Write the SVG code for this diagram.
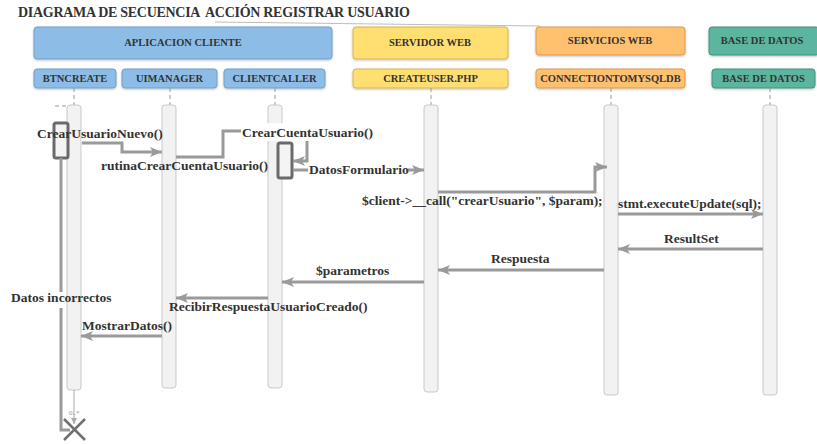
<svg xmlns="http://www.w3.org/2000/svg" width="817" height="444" viewBox="0 0 817 444">
<defs>
<marker id="arr" markerUnits="userSpaceOnUse" markerWidth="14" markerHeight="12" refX="12" refY="5" orient="auto">
<path d="M0,0 L12,5 L0,10 L3,5 z" fill="#9a9a9a"/>
</marker>
<marker id="arrs" markerUnits="userSpaceOnUse" markerWidth="8" markerHeight="8" refX="6" refY="3" orient="auto">
<path d="M0,0 L6,3 L0,6 z" fill="#aaa"/>
</marker>
<filter id="sh" x="-5%" y="-10%" width="110%" height="130%">
<feDropShadow dx="0" dy="1" stdDeviation="0.8" flood-color="#000" flood-opacity="0.25"/>
</filter>
</defs>
<style>
text{font-family:"Liberation Serif","Times New Roman",serif;font-weight:bold;fill:#333}
.hd{font-size:10.5px;text-anchor:middle}
.msg{font-size:13.5px}
.blue{fill:#8dbce6;stroke:#6f9fcb;stroke-width:1}
.yel{fill:#ffde72;stroke:#d6b54e;stroke-width:1}
.ora{fill:#ffc06f;stroke:#d59b4f;stroke-width:1}
.teal{fill:#5cb59e;stroke:#40917c;stroke-width:1}
.bar{fill:#f2f2f2;stroke:#c9c9c9;stroke-width:1}
.dash{stroke:#9a9a9a;stroke-width:1;stroke-dasharray:4 3;fill:none}
.act{fill:#f4f4f4;stroke:#6a6a6a;stroke-width:3}
.c{stroke:#9a9a9a;stroke-width:3;fill:none}
.ca{stroke:#9a9a9a;stroke-width:3;fill:none;marker-end:url(#arr)}
.bg{fill:#fff}
</style>
<rect width="817" height="444" fill="#fff"/>
<text x="18" y="17" style="font-size:14px;white-space:pre" xml:space="preserve" textLength="392" fill="#222">DIAGRAMA DE SECUENCIA  ACCIÓN REGISTRAR USUARIO</text>
<line x1="215" y1="22" x2="540" y2="26" stroke="#bdbdbd" stroke-width="1"/>

<g id="grp-aplicacion-cliente"><rect class="blue" x="34" y="27" width="298" height="32" rx="3" filter="url(#sh)"/><text class="hd" x="183" y="46">APLICACION CLIENTE</text></g>
<g id="grp-servidor-web"><rect class="yel" x="353" y="27" width="155" height="32" rx="3" filter="url(#sh)"/><text class="hd" x="430" y="46">SERVIDOR WEB</text></g>
<g id="grp-servicios-web"><rect class="ora" x="536" y="27" width="149" height="28" rx="3" filter="url(#sh)"/><text class="hd" x="610" y="44">SERVICIOS WEB</text></g>
<g id="grp-base-datos"><rect class="teal" x="709" y="27" width="110" height="28" rx="3" filter="url(#sh)"/><text class="hd" x="762" y="44">BASE DE DATOS</text></g>

<g id="btncreate"><rect class="blue" x="34" y="69" width="82" height="19" rx="3" filter="url(#sh)"/><text class="hd" x="75" y="82">BTNCREATE</text>
<line class="dash" x1="74" y1="88" x2="74" y2="105"/><line class="dash" x1="55" y1="106" x2="68" y2="106"/>
<rect class="bar" x="67" y="105" width="14" height="285" rx="3"/></g>
<g id="uimanager"><rect class="blue" x="122" y="69" width="95" height="19" rx="3" filter="url(#sh)"/><text class="hd" x="169.5" y="82">UIMANAGER</text>
<line class="dash" x1="170" y1="88" x2="170" y2="105"/>
<rect class="bar" x="162" y="105" width="14" height="283" rx="3"/></g>
<g id="clientcaller"><rect class="blue" x="224" y="69" width="101" height="19" rx="3" filter="url(#sh)"/><text class="hd" x="274.5" y="82">CLIENTCALLER</text>
<line class="dash" x1="275" y1="88" x2="275" y2="105"/>
<rect class="bar" x="268" y="105" width="14" height="283" rx="3"/></g>
<g id="createuser"><rect class="yel" x="353" y="69" width="155" height="19" rx="3" filter="url(#sh)"/><text class="hd" x="430.5" y="82">CREATEUSER.PHP</text>
<line class="dash" x1="431" y1="88" x2="431" y2="105"/>
<rect class="bar" x="424" y="105" width="14" height="287" rx="3"/></g>
<g id="connectiontomysqldb"><rect class="ora" x="536" y="69" width="149" height="19" rx="3" filter="url(#sh)"/><text class="hd" x="610.5" y="82">CONNECTIONTOMYSQLDB</text>
<line class="dash" x1="611" y1="88" x2="611" y2="105"/>
<rect class="bar" x="604" y="105" width="14" height="290" rx="3"/></g>
<g id="base-de-datos"><rect class="teal" x="712" y="69" width="103" height="19" rx="3" filter="url(#sh)"/><text class="hd" x="763.5" y="82">BASE DE DATOS</text>
<line class="dash" x1="770" y1="88" x2="770" y2="105"/>
<rect class="bar" x="763" y="105" width="14" height="290" rx="3"/></g>

<g id="activations">
<rect class="act" x="54" y="123" width="14" height="35" rx="2"/>
<rect class="act" x="278" y="143" width="14" height="35" rx="2"/>
</g>

<g id="connectors">
<path class="ca" d="M82,143 H122 V152 H162"/>
<text class="msg" x="37" y="138">CrearUsuarioNuevo()</text>
<text class="msg" x="101" y="170">rutinaCrearCuentaUsuario()</text>

<path class="ca" d="M176,157 H223 V131 H307 V161 H293"/>
<rect class="bg" x="241" y="123" width="133" height="18"/>
<text class="msg" x="242" y="137">CrearCuentaUsuario()</text>

<path class="ca" d="M293,170 H424"/>
<rect class="bg" x="308" y="162" width="100" height="16"/>
<text class="msg" x="309" y="174">DatosFormulario</text>

<path class="ca" d="M438,192 H595 V167 H607"/>
<text class="msg" x="362" y="205">$client-&gt;__call("crearUsuario", $param);</text>

<path class="ca" d="M618,214 H763"/>
<text class="msg" x="618" y="208">stmt.executeUpdate(sql);</text>

<path class="ca" d="M763,249 H618"/>
<text class="msg" x="664" y="243">ResultSet</text>

<path class="ca" d="M604,270 H438"/>
<text class="msg" x="491" y="263">Respuesta</text>

<path class="ca" d="M424,282 H282"/>
<text class="msg" x="316" y="275">$parametros</text>

<path class="ca" d="M268,298 H176"/>
<text class="msg" x="169" y="311">RecibirRespuestaUsuarioCreado()</text>

<path class="ca" d="M162,336 H81"/>
<text class="msg" x="82" y="330">MostrarDatos()</text>

<path class="c" d="M61,158 V292"/>
<path class="c" d="M61,308 V430 H70"/>
<text class="msg" x="11" y="302">Datos incorrectos</text>

<line x1="74" y1="390" x2="74" y2="424" stroke="#aaa" stroke-width="1" marker-end="url(#arrs)"/>
<text x="69" y="415" style="font-size:7px;font-weight:normal;fill:#999">0..*</text>
</g>

<g id="destroy">
<line x1="64" y1="419" x2="85" y2="440" stroke="#707070" stroke-width="2.5"/>
<line x1="85" y1="419" x2="64" y2="440" stroke="#707070" stroke-width="2.5"/>
</g>
</svg>
